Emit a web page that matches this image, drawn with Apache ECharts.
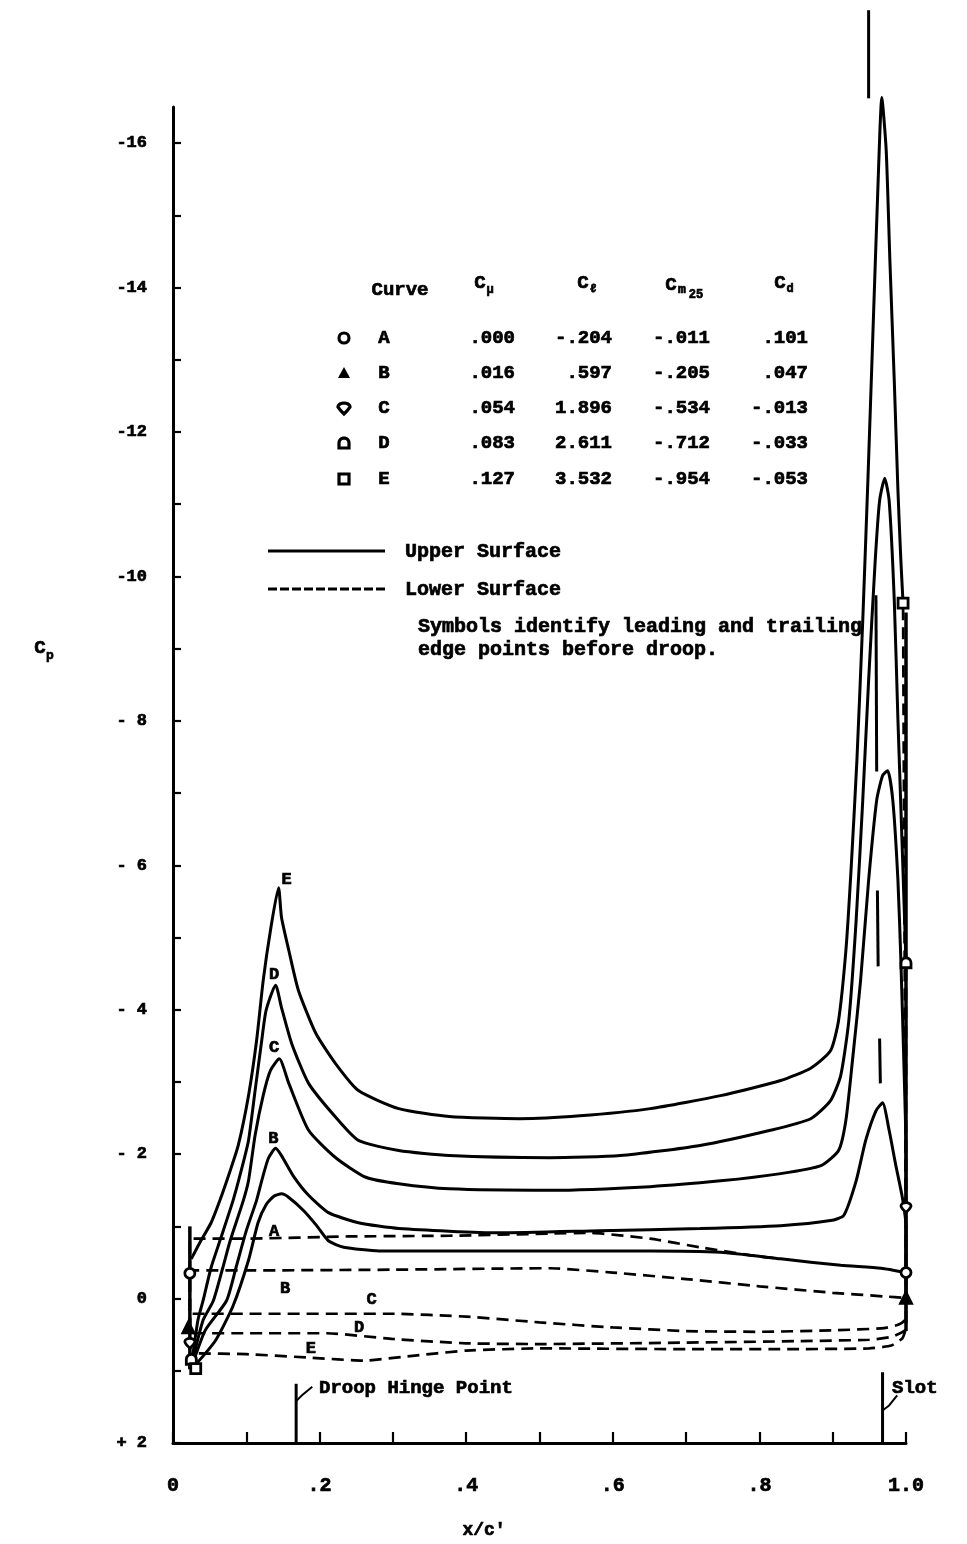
<!DOCTYPE html>
<html><head><meta charset="utf-8">
<script src="https://cdn.jsdelivr.net/npm/echarts@6/dist/echarts.min.js"></script>
<style>html,body{margin:0;padding:0;background:#fff}#c{width:967px;height:1544px}</style>
</head><body><div id="c"></div>
<script>
// ---------- data (x/c', Cp) ----------
const upperA = [[0.027,0.96],[0.058,0.58],[0.082,0.10],[0.103,-0.53],[0.116,-1.05],[0.127,-1.30],[0.138,-1.42],[0.148,-1.45],[0.158,-1.40],[0.178,-1.22],[0.196,-1.01],[0.212,-0.80],[0.233,-0.71],[0.281,-0.66],[0.445,-0.66],[0.651,-0.66],[0.747,-0.64],[0.829,-0.55],[0.911,-0.46],[0.966,-0.42],[1.0,-0.36]];
const upperB = [[0.025,0.96],[0.044,0.44],[0.073,0.03],[0.086,-0.43],[0.100,-0.94],[0.114,-1.36],[0.121,-1.63],[0.130,-1.94],[0.140,-2.08],[0.148,-1.98],[0.164,-1.70],[0.185,-1.43],[0.212,-1.19],[0.253,-1.05],[0.308,-0.97],[0.445,-0.91],[0.582,-0.94],[0.719,-0.97],[0.829,-1.01],[0.897,-1.08],[0.915,-1.15],[0.932,-1.63],[0.945,-2.19],[0.959,-2.60],[0.968,-2.71],[0.977,-2.33],[0.986,-1.85],[0.995,-1.40],[1.0,-1.0],[1.0,-0.01]];
const upperC = [[0.025,0.93],[0.041,0.30],[0.055,0.03],[0.068,-0.43],[0.078,-0.80],[0.096,-1.36],[0.103,-1.63],[0.112,-2.26],[0.123,-2.81],[0.133,-3.16],[0.145,-3.32],[0.158,-2.98],[0.185,-2.33],[0.222,-1.95],[0.263,-1.68],[0.308,-1.59],[0.377,-1.52],[0.514,-1.50],[0.651,-1.55],[0.747,-1.63],[0.829,-1.73],[0.884,-1.84],[0.908,-2.05],[0.918,-2.47],[0.927,-3.30],[0.938,-4.40],[0.949,-5.79],[0.960,-6.90],[0.968,-7.24],[0.975,-7.31],[0.982,-6.90],[0.989,-5.79],[0.993,-4.68],[0.997,-3.30],[1.0,-2.05],[1.0,-1.26]];
const upperD = [[0.025,0.93],[0.034,0.30],[0.041,0.03],[0.052,-0.43],[0.064,-0.80],[0.082,-1.36],[0.093,-1.77],[0.103,-2.19],[0.112,-2.88],[0.121,-3.57],[0.127,-3.99],[0.140,-4.34],[0.148,-4.03],[0.162,-3.53],[0.185,-2.98],[0.222,-2.51],[0.253,-2.19],[0.308,-2.05],[0.377,-1.98],[0.514,-1.95],[0.610,-1.98],[0.719,-2.12],[0.815,-2.33],[0.870,-2.49],[0.897,-2.74],[0.911,-3.09],[0.922,-3.85],[0.932,-5.24],[0.941,-6.90],[0.949,-8.56],[0.958,-10.22],[0.964,-11.05],[0.971,-11.36],[0.977,-11.05],[0.984,-9.67],[0.989,-8.01],[0.995,-6.20],[1.0,-4.65]];
const upperE = [[0.025,-0.55],[0.038,-0.80],[0.052,-1.05],[0.064,-1.36],[0.078,-1.77],[0.089,-2.12],[0.103,-2.81],[0.114,-3.57],[0.123,-4.40],[0.133,-5.10],[0.144,-5.69],[0.148,-5.28],[0.158,-4.82],[0.171,-4.27],[0.195,-3.67],[0.222,-3.25],[0.253,-2.88],[0.308,-2.63],[0.377,-2.52],[0.473,-2.49],[0.555,-2.53],[0.651,-2.63],[0.747,-2.81],[0.829,-3.02],[0.870,-3.19],[0.897,-3.43],[0.908,-3.85],[0.918,-4.82],[0.925,-5.93],[0.933,-7.45],[0.941,-9.39],[0.948,-11.33],[0.955,-13.41],[0.962,-15.48],[0.967,-16.63],[0.973,-15.90],[0.978,-14.38],[0.984,-12.71],[0.989,-11.19],[0.993,-10.22],[0.996,-9.63]];

const lowerA = [[0.023,0.96],[0.023,-0.83],[0.10,-0.83],[0.24,-0.86],[0.377,-0.87],[0.514,-0.90],[0.568,-0.91],[0.651,-0.83],[0.719,-0.71],[0.788,-0.60],[0.83,-0.55]];
const lowerB = [[0.023,0.96],[0.023,-0.39],[0.10,-0.39],[0.30,-0.40],[0.514,-0.42],[0.60,-0.36],[0.70,-0.27],[0.80,-0.17],[0.90,-0.08],[0.97,-0.03],[1.0,-0.01]];
const lowerC = [[0.023,0.96],[0.023,0.21],[0.10,0.21],[0.30,0.21],[0.40,0.25],[0.50,0.33],[0.60,0.40],[0.70,0.45],[0.80,0.46],[0.90,0.44],[0.97,0.41],[0.99,0.36],[1.0,0.28],[1.0,-1.26]];
const lowerD = [[0.023,0.96],[0.023,0.48],[0.10,0.48],[0.21,0.48],[0.30,0.56],[0.40,0.62],[0.50,0.63],[0.70,0.61],[0.85,0.59],[0.95,0.57],[0.98,0.53],[1.0,0.42],[1.0,-4.65]];
const lowerE = [[0.025,0.96],[0.03,0.76],[0.10,0.77],[0.19,0.82],[0.26,0.86],[0.32,0.80],[0.40,0.72],[0.50,0.69],[0.70,0.70],[0.85,0.70],[0.95,0.69],[0.98,0.65],[0.995,0.55],[1.0,0.40],[0.996,-9.63]];

// leading / trailing edge points (before droop)
const curveNames = ['A','B','C','D','E'];
const leadingPts = [[0.023,-0.35],[0.021,0.40],[0.023,0.62],[0.025,0.84],[0.031,0.97]];
const trailingPts = [[1.0,-0.36],[1.0,-0.01],[1.0,-1.26],[1.0,-4.65],[0.996,-9.63]];

// curve label positions
const upperLabelPts = [[0.138,-0.93],[0.137,-2.21],[0.138,-3.48],[0.138,-4.48],[0.155,-5.80]];
const lowerLabelNames = ['B','C','D','E'];
const lowerLabelPts = [[0.153,-0.13],[0.271,0.02],[0.254,0.40],[0.188,0.70]];

// reference marks
const leLine = [[0.023,-1.0],[0.023,0.98]];
const teLine = [[1.0,-9.5],[1.0,0.45]];
const hingeLine = [[0.168,1.18],[0.168,2]];
const hingeHook = [[0.168,1.42],[0.176,1.34],[0.19,1.22]];
const slotLine = [[0.968,1.02],[0.968,2]];
const slotHook = [[0.968,1.55],[0.977,1.48],[0.988,1.34]];
const slotMarks = [[[0.949,-17.84],[0.949,-16.62]],[[0.959,-9.74],[0.960,-7.30]],[[0.961,-5.65],[0.962,-4.60]],[[0.964,-3.60],[0.965,-2.98]]];
const strayLine = [[1.027,-0.08],[1.085,-0.08]];

// table
const tableCmu = ['.000','.016','.054','.083','.127'];
const tableCl = ['-.204','.597','1.896','2.611','3.532'];
const tableCm = ['-.011','-.205','-.534','-.712','-.954'];
const tableCd = ['.101','.047','-.013','-.033','-.053'];

// axis ticks
const xLabelValues = [0,0.2,0.4,0.6,0.8,1.0];
const xLabelTexts = ['0','.2','.4','.6','.8','1.0'];
const yLabelValues = [-16,-14,-12,-10,-8,-6,-4,-2,0,2];
const yLabelTexts = ['-16','-14','-12','-10','- 8','- 6','- 4','- 2','0','+ 2'];
const yTickValues = [-16,-15,-14,-13,-12,-11,-10,-9,-8,-7,-6,-5,-4,-3,-2,-1,0,1,2];

// ---------- chart ----------
const FONT = '"Liberation Mono", "DejaVu Sans Mono", monospace';
const symbols = {
  A: 'circle',
  B: 'triangle',
  C: 'path://M5,12 C2,8 0,6 0,4 A5,4 0 0 1 10,4 C10,6 8,8 5,12 Z',
  D: 'path://M0,10 L0,5 A5,5 0 0 1 10,5 L10,10 Z',
  E: 'rect'
};
const symbolFill = {A:'#fff',B:'#000',C:'#fff',D:'#fff',E:'#fff'};

const chart = echarts.init(document.getElementById('c'), null, {renderer:'canvas'});
const series = [];
const uppers = [upperA,upperB,upperC,upperD,upperE];
const lowers = [lowerA,lowerB,lowerC,lowerD,lowerE];
uppers.forEach((d,i)=>series.push({type:'line',name:'upper '+curveNames[i],data:d,showSymbol:false,smooth:0.2,clip:false,
  lineStyle:{color:'#000',width:3},z:3}));
lowers.forEach((d,i)=>series.push({type:'line',name:'lower '+curveNames[i],data:d,showSymbol:false,smooth:0.15,clip:false,
  lineStyle:{color:'#000',width:2.7,type:[12,7]},z:3}));
const refLine = (d,w)=>({type:'line',data:d,showSymbol:false,clip:false,lineStyle:{color:'#000',width:w||2.5},z:2,silent:true});
series.push(refLine(leLine,3.5), refLine(teLine,3.5), refLine(hingeLine,3), refLine(hingeHook,2), refLine(slotLine,3), refLine(slotHook,2), refLine(strayLine,3));
slotMarks.forEach(s=>series.push(refLine(s,3)));
curveNames.forEach((n,i)=>{
  series.push({type:'scatter',data:[leadingPts[i],trailingPts[i]],symbol:symbols[n],symbolSize:n==='B'?11:10,clip:false,
    itemStyle:{color:symbolFill[n],borderColor:'#000',borderWidth:2.8,opacity:1},z:5});
});
const curveLabel = {show:true,position:'inside',formatter:'{b}',color:'#000',opacity:1,fontFamily:FONT,fontWeight:'bold',fontSize:17,textBorderColor:'#000',textBorderWidth:0.7};
series.push({type:'scatter',symbolSize:1,itemStyle:{opacity:0},clip:false,z:6,
  data:upperLabelPts.map((p,i)=>({value:p,name:curveNames[i]})),label:curveLabel});
series.push({type:'scatter',symbolSize:1,itemStyle:{opacity:0},clip:false,z:6,
  data:lowerLabelPts.map((p,i)=>({value:p,name:lowerLabelNames[i]})),label:curveLabel});

const txt = (text,x,y,size,align)=>({type:'text',x:x,y:y,silent:true,
  style:{text:text,fill:'#000',stroke:'#000',lineWidth:0.7,font:'bold '+size+'px '+FONT,textAlign:align||'left',textVerticalAlign:'middle'}});
const graphic = [];
// table header
graphic.push(txt('Curve',400,290,19,'center'));
graphic.push(txt('C',480,283,19,'center'), txt('μ',490,290,12,'center'));
graphic.push(txt('C',583,283,19,'center'), txt('ℓ',593,289,12,'center'));
graphic.push(txt('C',671,285,19,'center'), txt('m',682,290,13,'center'), txt('25',696,295,12,'center'));
graphic.push(txt('C',780,283,19,'center'), txt('d',790,289,12,'center'));
const rowY = [338,373,408,443,479];
function heartPts(cx,cy){const p=[];for(let k=0;k<=20;k++){const a=Math.PI*k/20;p.push([cx-6*Math.cos(a),cy-1-4*Math.sin(a)]);}p.push([cx+3,cy+3]);p.push([cx,cy+6]);p.push([cx-3,cy+3]);return p;}
function archPts(cx,cy){const p=[[cx-5,cy+5],[cx-5,cy]];for(let k=0;k<=16;k++){const a=Math.PI-Math.PI*k/16;p.push([cx+5*Math.cos(a),cy-5*Math.sin(a)]);}p.push([cx+5,cy+5]);return p;}
curveNames.forEach((n,i)=>{
  const y = rowY[i];
  graphic.push(txt(n,384,y,19,'center'));
  graphic.push(txt(tableCmu[i],515,y,19,'right'), txt(tableCl[i],612,y,19,'right'), txt(tableCm[i],710,y,19,'right'), txt(tableCd[i],808,y,19,'right'));
  const cx = 344;
  if(n==='A') graphic.push({type:'circle',shape:{cx:cx,cy:y,r:5},style:{fill:'#fff',stroke:'#000',lineWidth:3.2}});
  if(n==='B') graphic.push({type:'polygon',shape:{points:[[cx-6,y+5],[cx+6,y+5],[cx,y-6]]},style:{fill:'#000'}});
  if(n==='C') graphic.push({type:'polygon',shape:{points:heartPts(cx,y)},style:{fill:'#fff',stroke:'#000',lineWidth:3.2}});
  if(n==='D') graphic.push({type:'polygon',shape:{points:archPts(cx,y)},style:{fill:'#fff',stroke:'#000',lineWidth:3.2}});
  if(n==='E') graphic.push({type:'rect',shape:{x:cx-5,y:y-5,width:10,height:10},style:{fill:'#fff',stroke:'#000',lineWidth:3.2}});
});
// legend
graphic.push({type:'line',shape:{x1:268,y1:551,x2:385,y2:551},style:{stroke:'#000',lineWidth:3}});
graphic.push(txt('Upper Surface',405,552,20,'left'));
graphic.push({type:'line',shape:{x1:268,y1:589,x2:385,y2:589},style:{stroke:'#000',lineWidth:3,lineDash:[9,3]}});
graphic.push(txt('Lower Surface',405,590,20,'left'));
graphic.push(txt('Symbols identify leading and trailing',418,627,20,'left'));
graphic.push(txt('edge points before droop.',418,650,20,'left'));
// annotations
graphic.push(txt('Droop Hinge Point',319,1388,19,'left'));
graphic.push(txt('Slot',892,1388,19,'left'));
// axis names
graphic.push(txt('C',40,648,19,'center'), txt('p',50,656,13,'center'));
graphic.push(txt("x/c'",484,1530,18,'center'));

const axisFont = {color:'#000',fontFamily:FONT,fontWeight:'bold',textBorderColor:'#000',textBorderWidth:0.7};
chart.setOption({
  animation:false,
  backgroundColor:'#fff',
  grid:{left:173,top:107,width:733,height:1336,containLabel:false},
  xAxis:{type:'value',min:0,max:1,interval:0.1,
    axisLine:{show:true,onZero:false,lineStyle:{color:'#000',width:3}},
    axisTick:{show:true,inside:true,length:11,lineStyle:{color:'#000',width:2.2}},
    axisLabel:Object.assign({customValues:xLabelValues,margin:33,fontSize:20,
      formatter:v=>{const i=xLabelValues.findIndex(t=>Math.abs(t-v)<1e-6);return i>=0?xLabelTexts[i]:'';}},axisFont),
    splitLine:{show:false}},
  yAxis:{type:'value',inverse:true,min:-16.5,max:2,
    axisLine:{show:true,onZero:false,lineStyle:{color:'#000',width:3}},
    axisTick:{show:true,inside:true,length:8,customValues:yTickValues,lineStyle:{color:'#000',width:2.2}},
    axisLabel:Object.assign({customValues:yLabelValues,margin:26,fontSize:17,
      formatter:v=>{const i=yLabelValues.findIndex(t=>Math.abs(t-v)<1e-6);return i>=0?yLabelTexts[i]:'';}},axisFont),
    splitLine:{show:false}},
  graphic:graphic,
  series:series
});
</script></body></html>
